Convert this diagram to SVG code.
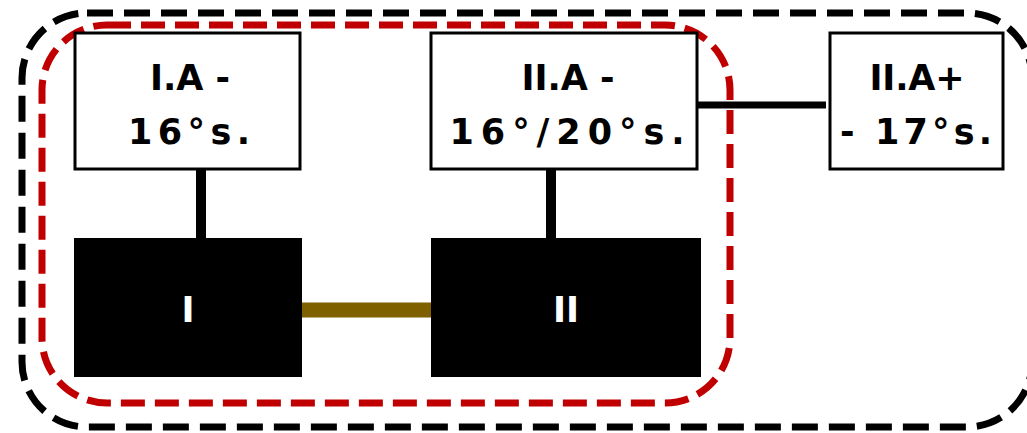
<svg xmlns="http://www.w3.org/2000/svg" width="1027" height="433" viewBox="0 0 1027 433">
<style>
.box{fill:#fff;stroke:#000;stroke-width:3}
.blk{fill:#000}
.t{font-family:"DejaVu Sans","Liberation Sans",Arial,sans-serif;font-size:35px;font-weight:bold;fill:#000;text-anchor:middle}
.w{fill:#fff}
.ln{stroke:#000;fill:none}
</style>
<rect width="1027" height="433" fill="#fff"/>
<g id="outer-group">
<rect x="22" y="13" width="1010" height="414" rx="65" ry="65" fill="none" stroke="#000" stroke-width="7" stroke-dasharray="26 11"/>
</g>
<g id="inner-group">
<rect x="42" y="25" width="688" height="378" rx="65" ry="65" fill="none" stroke="#C00000" stroke-width="7" stroke-dasharray="24 10"/>
</g>
<g id="connectors">
<line class="ln" x1="201" y1="169" x2="201" y2="239" stroke-width="10"/>
<line class="ln" x1="551" y1="169" x2="551" y2="239" stroke-width="10"/>
<line class="ln" x1="697" y1="105" x2="826" y2="105" stroke-width="7"/>
<line x1="302" y1="310" x2="431" y2="310" stroke="#7F6000" stroke-width="15"/>
</g>
<g id="node-IA">
<rect class="box" x="75" y="33" width="225" height="136"/>
<text class="t" x="190" y="90" textLength="80" lengthAdjust="spacing">I.A -</text>
<text class="t" x="189" y="144" textLength="122" lengthAdjust="spacing">16°s.</text>
</g>
<g id="node-IIA">
<rect class="box" x="431" y="33" width="266" height="136"/>
<text class="t" x="568" y="90" textLength="93" lengthAdjust="spacing">II.A -</text>
<text class="t" x="567" y="144" textLength="235" lengthAdjust="spacing">16°/20°s.</text>
</g>
<g id="node-IIAplus">
<rect class="box" x="830" y="33" width="173" height="136"/>
<text class="t" x="917" y="90" textLength="95" lengthAdjust="spacing">II.A+</text>
<text class="t" x="916" y="144" textLength="152" lengthAdjust="spacing">- 17°s.</text>
</g>
<g id="node-I">
<rect class="blk" x="74" y="238" width="228" height="139"/>
<text class="t w" x="188" y="322">I</text>
</g>
<g id="node-II">
<rect class="blk" x="431" y="238" width="270" height="139"/>
<text class="t w" x="566" y="322">II</text>
</g>
</svg>
